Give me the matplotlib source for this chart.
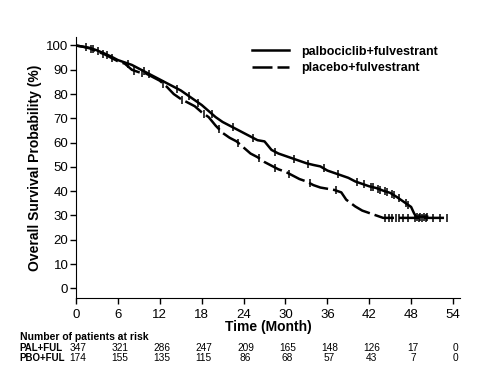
import numpy as np
import matplotlib
matplotlib.use("Agg")
import matplotlib.pyplot as plt
from matplotlib.transforms import blended_transform_factory

plt.rcParams['font.family'] = ['Liberation Sans', 'DejaVu Sans']

# survival curves (month, survival %)
pal_t = [0, 1, 2, 3, 4, 5, 6, 7, 8, 9, 10, 11, 12, 13, 14, 15, 16, 17, 18, 19,
         20, 21, 22, 23, 24, 25, 26, 27, 28, 29, 30, 31, 32, 33, 34, 35, 36, 37,
         38, 39, 40, 41, 42, 43, 44, 45, 46, 47, 48, 48.4, 48.7, 50.3]
pal_s = [100, 99.5, 99, 98, 96.8, 95.5, 94, 93, 92, 90.5, 89, 87.5, 86, 84.5, 83,
         81.5, 79.5, 77.5, 75.5, 73, 70.5, 68.5, 67, 65.5, 64, 62.5, 61, 60.5, 57,
         55.5, 54.5, 53.5, 52.5, 51.5, 50.8, 50.2, 48.5, 47.5, 46.5, 45.5, 44, 43,
         42, 41.3, 40.2, 39.3, 37.5, 35.5, 33.5, 31, 29.5, 29.5]

pbo_t = [0, 1, 2, 3, 4, 5, 6, 7, 8, 9, 10, 11, 12, 13, 14, 15, 16, 17, 18, 19,
         20, 21, 22, 23, 24, 25, 26, 27, 28, 29, 30, 31, 32, 33, 34, 35, 36, 37,
         38, 38.7, 40, 41, 42, 43, 44, 53.2]
pbo_s = [100, 99.5, 98.8, 97.5, 96.5, 95, 93.5, 92.5, 90, 89, 88.5, 87, 85.5, 83,
         80, 78, 76.5, 75, 72.5, 70.5, 67, 64, 62, 60.5, 58, 55.5, 54, 52, 50.5,
         49, 48, 46.5, 45, 44, 42.5, 41.5, 41, 40.5, 39.5, 36.5, 33.7, 32, 31, 30,
         29, 29]

# censor times
pal_cens = [1.5, 2.5, 3.2, 4.4, 7.5, 9.8, 10.5, 14.5, 16.2, 17.5, 19.5, 22.5, 25.3,
            28.5, 31.2, 33.2, 35.5, 37.5, 40.3, 41.2, 42.2, 42.6, 43.2, 43.6, 44.2,
            44.6, 45.2, 45.6, 46.2, 47.2, 47.6, 48.8, 49.3, 49.8, 50.3]
pbo_cens = [2.2, 3.8, 5.2, 8.3, 9.5, 12.5, 15.2, 18.3, 20.5, 23.2, 26.2, 28.5, 30.5,
            33.5, 37.2, 44.3, 44.8, 45.3, 45.8, 46.3, 46.8, 47.6, 48.6, 49.1, 49.6,
            50.2, 51.1, 52.1, 53.2]

ticks_x = [0, 6, 12, 18, 24, 30, 36, 42, 48, 54]
risk_pal = [347, 321, 286, 247, 209, 165, 148, 126, 17, 0]
risk_pbo = [174, 155, 135, 115, 86, 68, 57, 43, 7, 0]


fig = plt.figure(figsize=(4.9, 3.92), dpi=100)
ax = fig.add_axes([76 / 490, 1 - 298 / 392, 384 / 490, 261 / 392])

ax.plot(pal_t, pal_s, color='black', lw=1.8, label='palbociclib+fulvestrant')
ax.plot(pbo_t, pbo_s, color='black', lw=1.8, dashes=(8, 2),
        label='placebo+fulvestrant')
# censor marks sit on the drawn curves
ax.plot(pal_cens, np.interp(pal_cens, pal_t, pal_s), ls='none', marker='|',
        ms=5.5, mew=1.1, color='black')
ax.plot(pbo_cens, np.interp(pbo_cens, pbo_t, pbo_s), ls='none', marker='|',
        ms=5.5, mew=1.1, color='black')

ax.set_xlim(0, 55)
ax.set_ylim(-4, 103.5)
ax.set_xticks(ticks_x)
ax.set_yticks(range(0, 101, 10))
ax.spines['top'].set_visible(False)
ax.spines['right'].set_visible(False)
ax.tick_params(direction='out', length=4, width=1, labelsize=9.5)
ax.tick_params(axis='x', pad=4)
ax.tick_params(axis='y', pad=1.5)
ax.set_xlabel('Time (Month)', fontsize=10, fontweight='bold', labelpad=-1)
ax.set_ylabel('Overall Survival Probability (%)', fontsize=10,
              fontweight='bold', labelpad=3)

ax.legend(loc='upper left', bbox_to_anchor=(0.43, 1.01), frameon=False,
          handlelength=2.9, handletextpad=1.0, labelspacing=0.35,
          prop={'weight': 'bold', 'size': 9})

# number at risk table
tr = blended_transform_factory(ax.transData, fig.transFigure)
fig.text(20 / 490, 1 - 337 / 392, 'Number of patients at risk', fontsize=7.5,
         fontweight='bold', va='center', ha='left')
fig.text(19 / 490, 1 - 348 / 392, 'PAL+FUL', fontsize=7, fontweight='bold',
         va='center', ha='left')
fig.text(19 / 490, 1 - 358 / 392, 'PBO+FUL', fontsize=7, fontweight='bold',
         va='center', ha='left')
for x, a, b in zip(ticks_x, risk_pal, risk_pbo):
    ax.text(x + 0.3, 1 - 348 / 392, str(a), transform=tr, fontsize=7.3,
            ha='center', va='center')
    ax.text(x + 0.3, 1 - 358 / 392, str(b), transform=tr, fontsize=7.3,
            ha='center', va='center')

fig.savefig('out.png', dpi=100)
